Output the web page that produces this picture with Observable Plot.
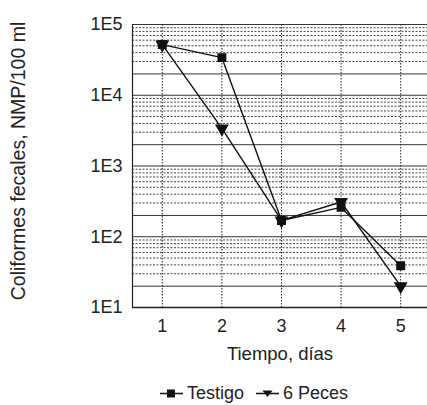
<!DOCTYPE html>
<html>
<head>
<meta charset="utf-8">
<script src="https://cdn.jsdelivr.net/npm/d3@7"></script>
<script src="https://cdn.jsdelivr.net/npm/@observablehq/plot@0.6"></script>
<style>
  body { margin: 0; background: #fff; font-family: "Liberation Sans", Arial, sans-serif; color: #222; }
  #legend { display: flex; align-items: center; height: 30px; padding-left: 160px; font-size: 18px; color: #222; }
  #legend .item { display: flex; align-items: center; margin-right: 12px; }
  #legend svg { margin-right: 4px; }
</style>
</head>
<body>
<div id="chart"></div>
<div id="legend"></div>
<script>
const days = [1, 2, 3, 4, 5];
const testigo = [52000, 34000, 170, 260, 39];
const peces = [52000, 3400, 170, 310, 20];
const seriesNames = ["Testigo", "6 Peces"];
const yTickValues = [10, 100, 1000, 10000, 100000];
const xTitle = "Tiempo, días";
const yTitle = "Coliformes fecales, NMP/100 ml";

const data = [];
days.forEach((d, i) => {
  data.push({day: d, value: testigo[i], series: seriesNames[0]});
  data.push({day: d, value: peces[i], series: seriesNames[1]});
});

// minor gridlines
const solidGrid = [], dottedGrid = [];
for (let e = 1; e < 5; e++) {
  for (let m = 1; m <= 9; m++) {
    const v = m * Math.pow(10, e);
    if (m <= 2) solidGrid.push(v); else dottedGrid.push(v);
  }
}
solidGrid.push(100000);

const font = "'Liberation Sans', Arial, sans-serif";
const chart = Plot.plot({
  width: 427,
  height: 378,
  marginLeft: 132,
  marginRight: 0,
  marginTop: 24,
  marginBottom: 71,
  style: {fontFamily: font, color: "#222", background: "#fff"},
  x: {domain: [0.5, 5.45], label: null},
  y: {type: "log", domain: [10, 100000], label: null},
  marks: [
    Plot.ruleY(dottedGrid, {stroke: "#222", strokeWidth: 1, strokeDasharray: "2,1.5", strokeOpacity: 0.85}),
    Plot.ruleY(solidGrid, {stroke: "#333", strokeWidth: 1}),
    Plot.ruleX(days, {stroke: "#222", strokeWidth: 1, strokeDasharray: "1.5,1.5"}),
    Plot.ruleX([0.5], {stroke: "#222", strokeWidth: 1.2}),
    Plot.ruleY([10], {stroke: "#222", strokeWidth: 1.5}),
    Plot.axisX(days, {tickFormat: d => String(d), tickSize: 0, tickPadding: 12, fontSize: 18, label: null}),
    Plot.axisY(yTickValues, {tickFormat: d => "1E" + Math.round(Math.log10(d)), tickSize: 0, tickPadding: 10, fontSize: 18, label: null}),
    Plot.text([xTitle], {frameAnchor: "bottom", dy: 52, fontSize: 18.5, fill: "#222"}),
    Plot.text([yTitle], {frameAnchor: "left", textAnchor: "middle", rotate: -90, dx: -114, dy: -5, fontSize: 19.5, fill: "#222"}),
    Plot.line(data, {x: "day", y: "value", z: "series", stroke: "#111", strokeWidth: 1.4}),
    Plot.dot(data.filter(d => d.series === seriesNames[0]), {x: "day", y: "value", symbol: "square", r: 4.2, fill: "#111", stroke: "#111"}),
    Plot.dot(data.filter(d => d.series === seriesNames[1]), {x: "day", y: "value", symbol: "triangle", r: 4.2, fill: "#111", stroke: "#111", rotate: 180})
  ]
});
document.getElementById("chart").appendChild(chart);

const legend = document.getElementById("legend");
function symbolSvg(kind) {
  const shape = kind === 0
    ? '<rect x="7" y="3.5" width="8" height="8" fill="#111"/>'
    : '<path d="M6.5,4.5 L16.5,4.5 L11.5,11 Z" fill="#111"/>';
  return '<svg width="23" height="15"><line x1="0" x2="23" y1="7.5" y2="7.5" stroke="#111" stroke-width="1.5"/>' + shape + '</svg>';
}
seriesNames.forEach((name, i) => {
  const el = document.createElement("div");
  el.className = "item";
  el.innerHTML = symbolSvg(i) + '<span>' + name + '</span>';
  legend.appendChild(el);
});
</script>
</body>
</html>
